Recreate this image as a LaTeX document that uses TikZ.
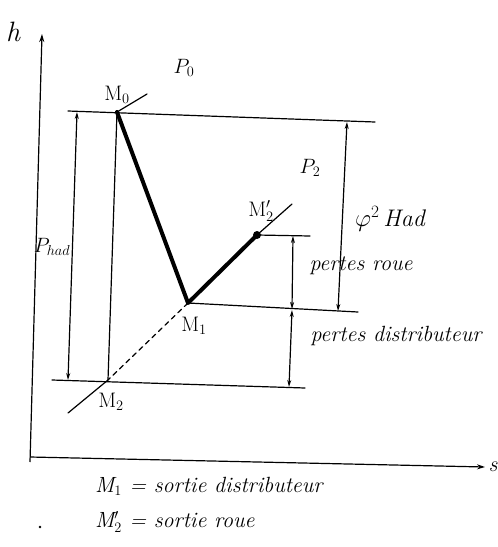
\documentclass[tikz,border=0pt]{standalone}
\usetikzlibrary{arrows.meta}
\begin{document}
\begin{tikzpicture}[x=1pt,y=-1pt,
  thin line/.style={line width=1.2pt, line cap=round},
  thick line/.style={line width=4pt, line cap=round, line join=round},
  dim arrow/.style={line width=1.2pt, {Stealth[length=7pt,width=4pt]}-{Stealth[length=7pt,width=4pt]}},
  axis arrow/.style={line width=1.2pt, -{Stealth[length=8pt,width=5pt]}},
  lab/.style={inner sep=0pt, font=\fontsize{22}{26}\selectfont\itshape},
  pt lab/.style={inner sep=0pt, font=\fontsize{21}{24}\selectfont},
  note/.style={inner sep=0pt, anchor=west, font=\fontsize{22}{25}\selectfont\itshape}]
\useasboundingbox (0,0) rectangle (498,547);

% points
\coordinate (O) at (30,457);
\coordinate (htip) at (42,34);
\coordinate (stip) at (485,467);
\coordinate (M0) at (117,112);
\coordinate (M1) at (188,303);
\coordinate (M2) at (108,380);
\coordinate (M2p) at (257,235);

% axes
\draw[axis arrow] (30,462) -- (htip);
\draw[axis arrow] (O) -- (stip);
\node[lab, font=\fontsize{28}{30}\selectfont\itshape] (hlab) at (13,32) {h};
\node[lab] (slab) at (493,467) {s};

% horizontal levels
\coordinate (L0a) at (68,111);
\coordinate (L0b) at (375,122);
\draw[thin line] (L0a) -- (L0b);
\coordinate (L2a) at (52,380);
\coordinate (L2b) at (305,388);
\draw[thin line] (L2a) -- (L2b);
\coordinate (L1b) at (358,312);
\draw[thin line] (M1) -- (L1b);
\coordinate (Lpb) at (310,236);
\draw[thin line] (M2p) -- (Lpb);

% tangent marks
\coordinate (T0) at (147,94);
\draw[thin line] (M0) -- (T0);
\coordinate (Tp) at (292,204);
\draw[thin line] (M2p) -- (Tp);

% vertical isentropic M0 -> M2
\draw[thin line] (M0) -- (M2);

% isobar line through M1 and M2
\draw[thin line, dash pattern=on 5pt off 4pt] (M1) -- (M2);
\coordinate (Tend) at (68,413);
\draw[thin line] (M2) -- (Tend);

% actual expansion
\draw[thick line] (M0) -- (M1) -- (M2p);
\fill (M2p) circle (4pt);

% dimension arrows
\coordinate (Pa) at (77,112);
\coordinate (Pb) at (68,380);
\draw[dim arrow] (Pa) -- (Pb);
\coordinate (Ha) at (347,122);
\coordinate (Hb) at (338,311);
\draw[dim arrow] (Ha) -- (Hb);
\coordinate (Ra) at (293,236);
\coordinate (Rb) at (292,309);
\draw[dim arrow] (Ra) -- (Rb);
\coordinate (Da) at (292,310);
\coordinate (Db) at (289,387);
\draw[dim arrow] (Da) -- (Db);

% point labels
\node[pt lab] (M0lab) at (117,95) {M$_0$};
\node[pt lab] (M1lab) at (194,326) {M$_1$};
\node[pt lab] (M2lab) at (111,402) {M$_2$};
\node[pt lab] (M2plab) at (261,211) {M$'_2$};
\node[pt lab] (P0lab) at (184,68) {$P_0$};
\node[pt lab] (P2lab) at (310,168) {$P_2$};

% quantity labels
\node[pt lab] (Phad) at (52,247) {$P_{had}$};
\node[lab, font=\fontsize{24}{28}\selectfont\itshape] (phiHad) at (390,219) {$\varphi^2$\,Had};
\node[lab] (roue) at (361,266) {pertes roue};
\node[lab] (distr) at (396,336) {pertes distributeur};

% legend
\node[note] (leg1) at (95,486) {M$_1$ = sortie distributeur};
\node[note] (leg2) at (95,522) {M$'_2$ = sortie roue};
\fill (40,527) circle (1.3pt);
\end{tikzpicture}
\end{document}
